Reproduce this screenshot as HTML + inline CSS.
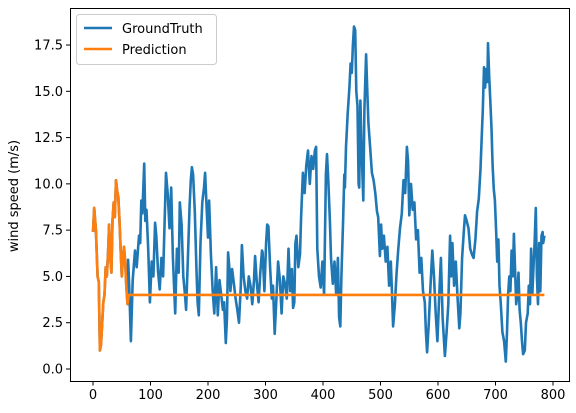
<!DOCTYPE html>
<html><head><meta charset="utf-8"><style>
body{margin:0;background:#fff;}
svg{display:block;font-family:"DejaVu Sans","Liberation Sans",sans-serif;}
</style></head><body>
<svg id="chart" width="576" height="413" viewBox="0 0 576 413">
<rect x="0" y="0" width="576" height="413" fill="#fff"/>
<g id="axes"></g>
<path id="gt" fill="none" stroke="#1f77b4" stroke-width="2.6" stroke-linejoin="round"/>
<path id="pred" fill="none" stroke="#ff7f0e" stroke-width="2.6" stroke-linejoin="round"/>
<rect x="70.5" y="8.5" width="499" height="373" fill="none" stroke="#000" stroke-width="1"/>
<text x="18" y="196" font-size="13" text-anchor="middle" transform="rotate(-90 18 196)">wind speed (m/s)</text>
<g>
<rect x="76.5" y="14.5" width="140" height="50" rx="3" fill="#fff" fill-opacity="0.8" stroke="#ccc"/>
<line x1="84" y1="28" x2="112" y2="28" stroke="#1f77b4" stroke-width="2.6"/>
<text x="122" y="33" font-size="13">GroundTruth</text>
<line x1="84" y1="49" x2="112" y2="49" stroke="#ff7f0e" stroke-width="2.6"/>
<text x="122" y="54" font-size="13">Prediction</text>
</g>
</svg>
<script>
const xTicks=[0,100,200,300,400,500,600,700,800];
const yTicks=[0,2.5,5,7.5,10,12.5,15,17.5];
const gtIdx=[0,2,5,8,10,12,14,16,18,20,22,24,26,28,30,32,34,36,38,40,42,44,46,48,50,52,54,56,58,60,61,63,66,69,73,76,80,82,84,86,89,91,93,96,99,102,105,108,110,113,116,119,122,125,127,130,133,136,139,143,146,149,151,154,157,160,162,165,168,170,172,174,177,180,182,184,187,190,193,195,198,200,202,205,208,211,214,217,220,223,226,228,231,233,235,237,239,242,245,248,251,254,257,259,262,265,268,271,274,277,280,282,285,288,291,294,295,298,301,303,305,308,311,313,316,319,322,325,328,331,334,337,340,343,346,348,350,352,354,357,360,362,365,368,371,374,377,380,383,386,388,390,393,396,399,402,405,407,409,412,414,417,420,423,426,428,430,432,435,437,438,440,443,446,448,450,452,454,456,458,460,462,463,465,467,470,472,475,477,479,482,485,488,491,494,496,499,501,503,506,509,512,515,518,520,522,525,528,531,534,537,540,543,546,548,550,553,556,559,562,565,568,571,574,577,579,581,584,587,590,593,596,599,602,605,608,612,615,618,621,623,625,628,631,634,637,639,642,645,647,650,653,656,659,662,665,668,671,674,676,678,680,682,684,686,687,689,691,693,695,697,699,701,703,705,707,709,712,715,718,720,722,724,726,728,730,732,734,736,738,740,742,744,746,748,751,753,756,758,760,762,764,766,768,770,772,774,776,778,780,782,783,785];
const gtVal=[7.4,8.7,7.5,5,4.7,1,1.3,2.5,3.6,4,5.5,5,6.2,7.8,6,5.2,8,9,8.2,10.2,9.6,9.3,8,6.5,5,6,6.6,5.8,4.5,3.5,5.9,4.5,1.5,4.8,6.4,5.5,7.2,6.8,9.1,8.4,11.1,8.0,8.6,6.5,3.6,5.8,5.0,7.9,7.2,5.3,4.3,6.0,5.0,8.5,10.6,9.4,7.6,9.8,6.0,3.0,6.5,5.2,9.0,7.8,5.0,4.0,3.2,6.0,8.8,10.2,10.9,10.5,8.5,5.3,3.6,2.9,6.8,9.0,9.8,10.6,8.5,7.1,9.1,6.2,4.3,3.0,5.5,2.9,4.8,4.0,3.2,3.6,1.4,2.8,6.3,5.5,4.2,5.4,4.6,3.8,3.2,2.5,4.5,6.7,5.0,4.2,3.8,5.0,4.5,3.5,4.8,6.1,4.6,3.6,5.2,6.4,6.3,4.2,6.8,7.8,7.7,5.5,3.8,4.5,1.9,3.8,5.8,4.8,3.0,5.0,4.6,3.8,6.5,4.2,5.4,3.3,3.6,6.8,7.2,5.5,6.2,8.2,10.6,9.5,11.0,11.8,10.0,11.5,10.8,11.8,12.0,6.5,5.0,4.4,5.8,4.0,10.5,11.6,10.3,8.0,6.0,4.6,5.8,4.0,6.0,2.8,2.3,5.0,8.0,10.5,9.8,12.0,13.8,15.2,16.5,16.0,17.5,18.5,18.3,15.0,14.2,10.0,9.8,14.5,12.0,9.1,14.0,17.0,15.0,13.3,12.0,10.6,10.2,9.5,8.5,8.2,6.1,7.8,6.5,7.2,5.8,6.6,4.5,5.8,4.1,2.3,3.5,5.2,6.5,7.6,8.4,10.2,9.5,12.0,11.2,8.3,10.0,8.6,9.0,7.0,7.5,5.2,6.0,4.2,3.6,2.0,0.9,2.5,4.5,6.4,5.0,3.0,1.5,3.8,6.0,2.8,0.7,2.0,3.5,7.2,5.0,6.8,4.5,5.8,3.9,2.2,3.0,6.0,7.5,8.3,8.0,7.6,6.5,6.2,6.0,7.0,8.5,9.2,10.8,12.5,14.0,16.3,15.2,16.2,15.5,17.6,15.8,14.5,13.0,11.0,9.7,9.1,7.5,5.8,7.0,4.5,3.6,2.0,1.5,0.4,2.0,4.0,5.0,4.2,6.4,5.0,7.3,5.5,3.5,4.0,5.2,3.2,2.5,1.5,0.8,1.0,2.5,3.0,4.5,3.5,6.5,4.0,5.5,6.8,8.7,5.0,3.5,6.8,4.2,7.2,7.4,6.8,7.2];
const predIdx=[0,2,5,8,10,12,14,16,18,20,22,24,26,28,30,32,34,36,38,40,42,44,46,48,50,52,54,56,58,60,62,785];
const predVal=[7.4,8.7,7.5,5,4.7,1,1.3,2.5,3.6,4,5.5,5,6.2,7.8,6,5.2,8,9,8.2,10.2,9.6,9.3,8,6.5,5,6,6.6,5.8,4.5,3.5,4.0,4.0];
const xs=v=>93+v*0.575, ys=v=>369-v*18.514;
const NS='http://www.w3.org/2000/svg';
const ax=document.getElementById('axes');
function mk(t,a){const e=document.createElementNS(NS,t);for(const k in a)e.setAttribute(k,a[k]);ax.appendChild(e);return e;}
xTicks.forEach(t=>{
 const l=mk('line',{x1:xs(t),x2:xs(t),y1:381,y2:385.5,stroke:'#000'});
 
 
 const tx=mk('text',{x:xs(t),y:399,'font-size':13,'text-anchor':'middle'});tx.textContent=t;
 
 
});
yTicks.forEach(t=>{
 const l=mk('line',{x1:66,x2:70.5,y1:ys(t),y2:ys(t),stroke:'#000'});
 
 
 const tx=mk('text',{x:63,y:ys(t)+4.5,'font-size':13,'text-anchor':'end'});tx.textContent=t.toFixed(1);
 
 
});
function path(ix,vv){return ix.map((x,i)=>(i?'L':'M')+xs(x).toFixed(1)+','+ys(vv[i]).toFixed(1)).join('');}
document.getElementById('gt').setAttribute('d',path(gtIdx,gtVal));
document.getElementById('pred').setAttribute('d',path(predIdx,predVal));
</script>
</body></html>
